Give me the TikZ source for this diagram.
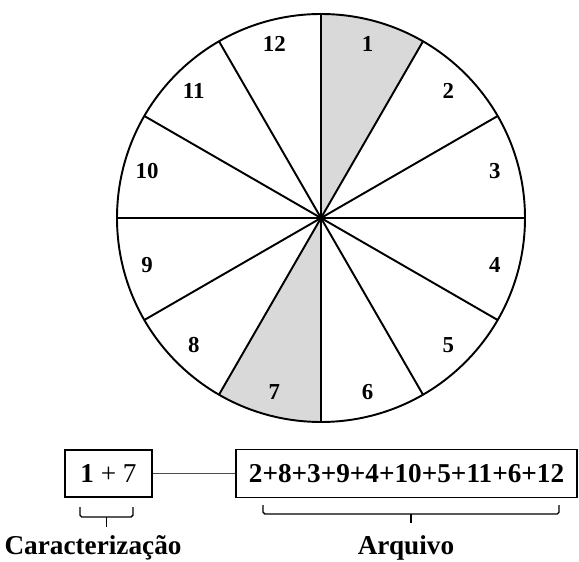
\documentclass[tikz,border=0pt]{standalone}
\usepackage{fontspec}
\setmainfont{Liberation Serif}
\usetikzlibrary{calc}

\begin{document}
\begin{tikzpicture}[
            sector/.style={fill=black!15, draw=none},
            spoke/.style={line width=1.1pt},
            numlabel/.style={font=\fontsize{13}{15}\selectfont\bfseries},
            groupbox/.style={draw, line width=0.9pt, inner sep=0pt, font=\fontsize{15.5}{18}\selectfont},
            bracket/.style={line width=0.8pt, rounded corners=1pt},
            caption/.style={font=\fontsize{15.5}{18}\selectfont\bfseries, anchor=base}
        ]
        \useasboundingbox (-6.42,-6.88) rectangle (5.16,4.36);
        % --- Wheel of 12 parts ---
        \coordinate (C) at (0,0);
        \fill[sector] (C) -- (90:4.08) arc (90:60:4.08) -- cycle;
        \fill[sector] (C) -- (270:4.08) arc (270:240:4.08) -- cycle;
        \foreach \a in {0,30,...,330} \draw[spoke] (C) -- (\a:4.08);
        \draw[spoke] (C) circle (4.08);
        \foreach \n in {1,...,12} \node[numlabel] (s\n) at ({105-30*\n}:3.6) {\n};
        % --- Groups ---
        \node[groupbox, minimum width=1.74cm, minimum height=0.94cm] (carac) at (-4.25,-5.11) {\textbf{1} + 7};
        \node[groupbox, minimum width=6.82cm, minimum height=0.96cm] (arq) at (1.71,-5.11) {\bfseries 2+8+3+9+4+10+5+11+6+12};
        \draw[line width=0.6pt, black!70] (carac) -- (arq);
        \draw[bracket] (-4.82,-5.78) |- (-4.29,-5.98) -| (-3.76,-5.78);
        \draw[bracket] (-4.29,-5.98) -- (-4.29,-6.18);
        \draw[bracket] (-1.16,-5.74) |- (1.80,-5.92) -| (4.76,-5.74);
        \draw[bracket] (1.80,-5.92) -- (1.80,-6.10);
        \node[caption] (lcarac) at (-4.56,-6.72) {Caracterização};
        \node[caption] (larq) at (1.70,-6.72) {Arquivo};
        \end{tikzpicture}
\end{document}
